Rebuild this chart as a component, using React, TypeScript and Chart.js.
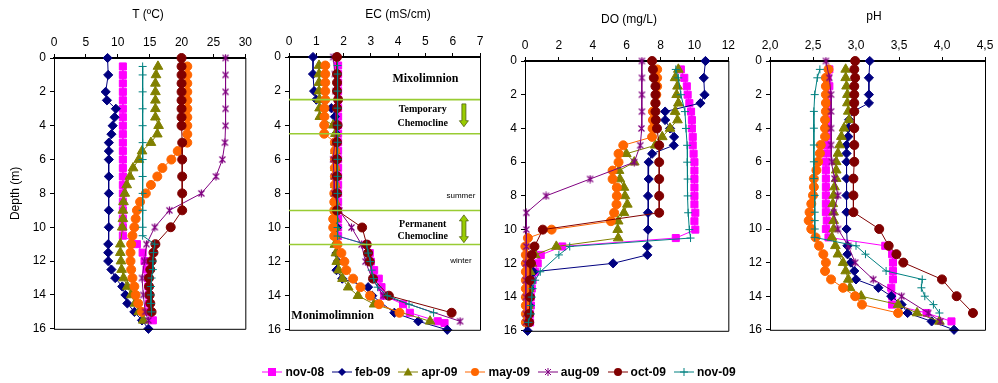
import React, { useEffect, useRef } from 'react';
import { Chart, registerables } from 'chart.js';

Chart.register(...registerables);

const SERIES_NAMES = ['nov-08', 'feb-09', 'apr-09', 'may-09', 'aug-09', 'oct-09', 'nov-09'];
const COLORS = ['#FF00FF', '#000080', '#808000', '#FF6600', '#800080', '#800000', '#008080'];
const STYLES = ['rect', 'rectRot', 'triangle', 'circle', 'asterisk', 'circle', 'cross'];
const RADII = [5, 4.6, 5.6, 4.5, 4, 4.5, 4];

// depth lists (m)
const D_HALF = [0.5, 1, 1.5, 2, 2.5, 3, 3.5, 4, 4.5, 5, 5.5, 6, 6.5, 7, 7.5, 8, 8.5, 9, 9.5, 10, 10.5, 11, 11.5, 12, 12.5, 13, 13.5, 14, 14.5, 15, 15.5];
const D_HALF15 = [0.5, 1, 1.5, 2, 2.5, 3, 3.5, 4, 4.5, 5, 5.5, 6, 6.5, 7, 7.5, 8, 8.5, 9, 9.5, 10, 10.5, 11, 11.5, 12, 12.5, 13, 13.5, 14, 14.5, 15];
const D_FEB = [0, 1, 2, 2.5, 3, 3.5, 4, 4.5, 5, 5.5, 6, 7, 8, 9, 10, 11, 11.5, 12, 12.5, 13, 13.5, 14, 14.5, 15, 15.5, 16];
const D_AUG = [0, 1, 2, 3, 4, 5, 6, 7, 8, 9, 10, 11, 12, 13, 14, 15, 15.5];

// ---- Temperature (ºC)
const tNov08 = [10.8, 10.8, 10.8, 10.8, 10.8, 10.8, 10.8, 10.8, 10.8, 10.8, 10.8, 10.8, 10.8, 10.8, 10.8, 10.8, 10.8, 10.8, 10.8, 10.8, 10.8, 13.0, 13.9, 14.2, 14.5, 14.7, 14.8, 14.9, 14.9, 15.0, 15.5];
const tFeb09 = [8.4, 8.5, 8.1, 8.3, 9.7, 9.5, 9.2, 9.0, 8.6, 8.6, 8.6, 8.6, 8.6, 8.6, 8.6, 8.5, 8.5, 8.5, 9.0, 9.6, 10.7, 11.2, 11.5, 12.6, 13.8, 14.8];
const tApr09Depth = [0.5, 1, 1.5, 2, 2.5, 3, 3.5, 4, 4.5, 5, 5.5, 6, 6.5, 7, 7.5, 8, 8.5, 9, 9.5, 10, 11, 11.5, 12, 12.5, 13, 13.5, 14, 14.5, 15, 15.5];
const tApr09 = [16.3, 16.0, 15.9, 15.9, 15.9, 15.9, 15.9, 16.4, 16.2, 15.2, 13.8, 13.3, 12.4, 11.9, 11.4, 11.1, 10.9, 10.8, 10.8, 10.7, 10.4, 10.4, 10.5, 10.6, 10.9, 11.5, 12.1, 12.7, 13.3, 14.0];
const tMay09 = [20.9, 20.9, 20.9, 20.9, 20.9, 20.9, 20.9, 20.9, 20.9, 20.9, 19.4, 18.4, 17.0, 16.2, 15.2, 14.4, 13.5, 13.0, 12.8, 12.6, 12.3, 12.1, 12.0, 12.0, 12.1, 12.3, 12.6, 12.8, 13.2, 13.8];
const tAug09 = [26.9, 26.9, 26.9, 26.9, 26.9, 26.8, 26.4, 25.4, 23.1, 18.1, 15.8, 14.5, 14.2, 13.8, 14.0, 14.3, 14.8];
const tOct09Depth = [0, 0.5, 1, 1.5, 2, 2.5, 3, 3.5, 4, 5, 6, 7, 8, 9, 10, 11, 11.5, 12, 12.5, 13, 13.5, 14, 14.5, 15];
const tOct09 = [20.0, 20.0, 20.0, 20.0, 20.0, 20.0, 20.0, 20.0, 20.0, 20.1, 20.1, 20.1, 20.1, 20.1, 18.3, 15.9, 15.6, 15.3, 15.1, 14.9, 14.9, 15.0, 15.1, 15.3];
const tNov09Depth = [0.5, 1, 2, 3, 4, 5, 6, 7, 8, 9, 10, 10.5, 11, 11.5, 12, 12.5, 13, 13.5, 14, 14.5, 15];
const tNov09 = [13.9, 13.9, 13.9, 13.9, 13.9, 13.9, 13.9, 13.9, 13.9, 13.9, 13.9, 13.9, 15.8, 15.6, 15.5, 15.5, 15.3, 15.2, 15.2, 15.2, 15.3];

// ---- EC (mS/cm)
const ecNov08Depth = [0.5, 1, 1.5, 2, 2.5, 3, 3.5, 4, 4.5, 5, 5.5, 6, 6.5, 7, 7.5, 8, 8.5, 9, 9.5, 10, 10.5, 11, 11.5, 12, 12.5, 13, 13.5, 14, 14.5, 15, 15.5, 15.6];
const ecNov08 = [1.8, 1.8, 1.8, 1.8, 1.8, 1.8, 1.8, 1.8, 1.8, 1.8, 1.8, 1.8, 1.8, 1.8, 1.8, 1.8, 1.8, 1.8, 1.8, 1.8, 1.8, 2.84, 2.96, 3.0, 3.12, 3.29, 3.39, 3.49, 4.18, 4.43, 5.45, 5.7];
const ecFeb09Depth = [0, 1, 2, 2.5, 3, 3.5, 4, 4.5, 5, 6, 7, 8, 9, 10, 11, 11.5, 12, 12.5, 13, 13.5, 14, 15, 15.5, 16];
const ecFeb09 = [0.88, 0.88, 0.92, 1.0, 1.55, 1.68, 1.71, 1.73, 1.74, 1.74, 1.74, 1.74, 1.75, 1.76, 1.74, 1.74, 1.78, 1.74, 1.95, 2.9, 3.05, 3.86, 4.74, 5.8];
const ecApr09Depth = [0.5, 1, 1.5, 2, 2.5, 3, 3.5, 4, 4.5, 5, 5.5, 6, 6.5, 7, 7.5, 8, 8.5, 9, 9.5, 10, 10.5, 11, 11.5, 12, 12.5, 13, 13.5, 14, 14.5, 15.5];
const ecApr09 = [1.1, 1.1, 1.1, 1.1, 1.12, 1.12, 1.13, 1.62, 1.7, 1.7, 1.7, 1.7, 1.7, 1.7, 1.7, 1.7, 1.7, 1.7, 1.7, 1.7, 1.7, 1.68, 1.72, 1.75, 1.82, 1.96, 2.17, 2.53, 3.12, 5.17];
const ecMay09 = [1.33, 1.33, 1.33, 1.33, 1.33, 1.3, 1.3, 1.29, 1.29, 1.68, 1.69, 1.68, 1.68, 1.68, 1.68, 1.66, 1.66, 1.66, 1.62, 1.62, 1.66, 1.78, 1.92, 2.03, 2.1, 2.35, 2.62, 2.97, 3.3, 4.05];
const ecAug09Depth = [0, 1, 2, 3, 4, 5, 6, 7, 8, 9, 10, 11, 12, 13, 14, 15.5];
const ecAug09 = [1.62, 1.68, 1.7, 1.72, 1.72, 1.68, 1.62, 1.65, 1.66, 1.84, 2.29, 2.66, 2.8, 3.05, 3.45, 6.27];
const ecOct09Depth = [0, 1, 1.5, 2, 2.5, 3, 4, 5, 6, 7, 8, 9, 10, 11, 11.5, 12, 13, 14, 15];
const ecOct09 = [1.76, 1.76, 1.76, 1.76, 1.8, 1.76, 1.78, 1.76, 1.76, 1.76, 1.76, 1.76, 2.68, 2.85, 2.9, 2.96, 3.08, 3.66, 5.96];
const ecNov09Depth = [0.5, 1, 2, 3, 4, 5, 6, 7, 8, 9, 10, 10.5, 11, 11.5, 12, 12.5, 13, 13.5, 14, 14.5, 15];
const ecNov09 = [1.78, 1.78, 1.78, 1.78, 1.78, 1.78, 1.78, 1.78, 1.78, 1.78, 1.78, 1.78, 2.85, 2.9, 2.98, 3.03, 3.1, 3.25, 3.6, 4.4, 5.3];

// ---- DO (mg/L)
const doNov08 = [9.2, 9.4, 9.55, 9.6, 9.7, 9.8, 9.85, 9.85, 9.9, 9.9, 9.95, 10.0, 10.0, 10.0, 10.0, 10.0, 10.0, 10.05, 10.0, 10.05, 8.9, 2.2, 0.93, 0.75, 0.6, 0.45, 0.4, 0.35, 0.35, 0.3, 0.3];
const doFeb09 = [10.65, 10.55, 10.6, 10.35, 8.27, 8.27, 8.56, 8.8, 8.78, 7.5, 7.3, 7.3, 7.26, 7.26, 7.26, 7.22, 7.22, 5.2, 0.5, 0.35, 0.3, 0.3, 0.25, 0.2, 0.2, 0.15];
const doApr09 = [9.05, 8.86, 9.0, 8.95, 9.05, 8.86, 9.0, 8.56, 8.1, 7.69, 5.98, 6.45, 5.55, 5.6, 5.84, 5.9, 6.04, 5.84, 5.5, 5.47, 5.5, 1.85, 0.6, 0.4, 0.3, 0.3, 0.25, 0.2, 0.2, 0.15, 0.15];
const doMay09 = [7.8, 7.8, 7.8, 7.75, 7.7, 7.55, 7.55, 7.53, 7.5, 5.8, 5.52, 5.52, 5.17, 5.17, 5.42, 5.42, 5.4, 5.26, 5.07, 1.57, 0.17, 0.02, 0.05, 0.05, 0.05, 0.05, 0.05, 0.05, 0.05, 0.05, 0.05];
const doAug09 = [6.9, 6.9, 6.9, 6.9, 6.87, 6.8, 6.45, 3.84, 1.24, 0.08, 0.08, 0.08, 0.05, 0.05, 0.05, 0.05, 0.05];
const doOct09Depth = [0, 0.5, 1, 1.5, 2, 2.5, 3, 3.5, 4, 5, 6, 7, 8, 9, 10, 11, 11.5, 12, 13, 14, 15, 15.5];
const doOct09 = [7.5, 7.55, 7.6, 7.7, 7.7, 7.7, 7.7, 7.72, 7.79, 7.92, 7.92, 7.92, 7.92, 7.92, 1.05, 0.56, 0.4, 0.35, 0.3, 0.3, 0.25, 0.25];
const doNov09Depth = [0.5, 1, 2, 3, 4, 5, 6, 7, 8, 9, 10, 10.5, 11, 11.5, 12.5, 13, 13.5, 14, 14.5, 15, 15.5];
const doNov09 = [8.9, 9.05, 9.2, 9.44, 9.5, 9.57, 9.57, 9.6, 9.6, 9.63, 9.7, 9.77, 2.64, 2.0, 0.9, 0.6, 0.45, 0.4, 0.35, 0.35, 0.2];

// ---- pH
const phNov08 = [2.69, 2.67, 2.69, 2.67, 2.67, 2.67, 2.67, 2.67, 2.67, 2.67, 2.66, 2.65, 2.65, 2.65, 2.65, 2.65, 2.65, 2.65, 2.66, 2.65, 2.68, 3.34, 3.42, 3.43, 3.43, 3.43, 3.41, 3.42, 3.42, 3.82, 4.11];
const phFeb09 = [3.16, 3.15, 3.15, 3.15, 2.97, 2.92, 2.91, 2.91, 2.89, 2.89, 2.89, 2.89, 2.89, 2.89, 2.89, 2.9, 2.9, 2.94, 2.98, 3.0, 3.26, 3.41, 3.53, 3.6, 3.88, 4.14];
const phApr09 = [2.88, 2.88, 2.89, 2.9, 2.9, 2.91, 2.92, 2.86, 2.83, 2.81, 2.79, 2.77, 2.77, 2.77, 2.75, 2.74, 2.73, 2.74, 2.74, 2.74, 2.72, 2.76, 2.79, 2.85, 2.88, 2.91, 2.93, 3.06, 3.49, 3.71, 3.97];
const phMay09 = [2.68, 2.65, 2.65, 2.65, 2.65, 2.65, 2.64, 2.64, 2.64, 2.59, 2.58, 2.56, 2.54, 2.51, 2.51, 2.5, 2.48, 2.46, 2.45, 2.48, 2.53, 2.57, 2.62, 2.65, 2.64, 2.71, 2.85, 2.99, 3.07, 3.49];
const phAug09 = [2.65, 2.69, 2.71, 2.71, 2.71, 2.71, 2.72, 2.75, 2.79, 2.74, 2.79, 2.91, 2.99, 3.2, 3.53, 3.84, 3.98];
const phOct09Depth = [0, 0.5, 1, 1.5, 2, 2.5, 3, 4, 5, 6, 7, 8, 9, 10, 11, 11.5, 12, 13, 14, 15];
const phOct09 = [2.99, 2.98, 2.99, 2.98, 2.98, 2.98, 2.98, 2.98, 2.98, 2.98, 2.97, 2.97, 2.97, 3.27, 3.38, 3.47, 3.55, 4.0, 4.17, 4.36];
const phNov09Depth = [0.5, 1, 2, 3, 4, 5, 6, 7, 8, 9, 9.5, 10, 10.5, 11, 11.5, 12.5, 13, 13.5, 14, 14.5, 15];
const phNov09 = [2.58, 2.55, 2.52, 2.51, 2.51, 2.51, 2.51, 2.51, 2.52, 2.52, 2.52, 2.52, 2.52, 3.0, 3.11, 3.35, 3.77, 3.76, 3.8, 3.9, 3.97];

// EC panel annotations
const CHEMOCLINE_DEPTHS = [2.5, 4.5, 9, 11];
const EC_NOTES = [
  { text: 'Mixolimnion', x: 5.0, y: 1.27, font: 'bold 12px "Liberation Serif", "Times New Roman", serif' },
  { text: 'Temporary', x: 4.9, y: 3.1, font: 'bold 10px "Liberation Serif", "Times New Roman", serif' },
  { text: 'Chemocline', x: 4.9, y: 3.9, font: 'bold 10px "Liberation Serif", "Times New Roman", serif' },
  { text: 'summer', x: 6.3, y: 8.16, font: '8px "Liberation Sans", Arial, sans-serif' },
  { text: 'Permanent', x: 4.9, y: 9.8, font: 'bold 10px "Liberation Serif", "Times New Roman", serif' },
  { text: 'Chemocline', x: 4.9, y: 10.54, font: 'bold 10px "Liberation Serif", "Times New Roman", serif' },
  { text: 'winter', x: 6.3, y: 11.93, font: '8px "Liberation Sans", Arial, sans-serif' },
  { text: 'Monimolimnion', x: 1.6, y: 15.19, font: 'bold 12px "Liberation Serif", "Times New Roman", serif' },
];
const EC_ARROWS = [
  { x: 6.41, from: 2.75, to: 4.09, both: false },
  { x: 6.41, from: 9.26, to: 10.89, both: true },
];

const SANS = '"Liberation Sans", Arial, Helvetica, sans-serif';

const PANELS = [
  {
    key: 'T', title: 'T (ºC)', titleX: 148, titleY: 15,
    left: 0, yw: 54, plotW: 194, top: 58, bottom: 332, padR: 8,
    min: 0, max: 30, step: 5, comma: false, yTitle: true,
    series: [[D_HALF, tNov08], [D_FEB, tFeb09], [tApr09Depth, tApr09], [D_HALF15, tMay09], [D_AUG, tAug09], [tOct09Depth, tOct09], [tNov09Depth, tNov09]],
  },
  {
    key: 'EC', title: 'EC (mS/cm)', titleX: 398, titleY: 15,
    left: 250, yw: 39, plotW: 191, top: 57, bottom: 333, padR: 8,
    min: 0, max: 7, step: 1, comma: false, yTitle: false,
    series: [[ecNov08Depth, ecNov08], [ecFeb09Depth, ecFeb09], [ecApr09Depth, ecApr09], [D_HALF15, ecMay09], [ecAug09Depth, ecAug09], [ecOct09Depth, ecOct09], [ecNov09Depth, ecNov09]],
  },
  {
    key: 'DO', title: 'DO (mg/L)', titleX: 629, titleY: 20,
    left: 485, yw: 40, plotW: 206, top: 61, bottom: 334, padR: 8,
    min: 0, max: 12, step: 2, comma: false, yTitle: false,
    series: [[D_HALF, doNov08], [D_FEB, doFeb09], [D_HALF, doApr09], [D_HALF, doMay09], [D_AUG, doAug09], [doOct09Depth, doOct09], [doNov09Depth, doNov09]],
  },
  {
    key: 'pH', title: 'pH', titleX: 874, titleY: 17,
    left: 730, yw: 40, plotW: 215, top: 61, bottom: 333, padR: 13,
    min: 2, max: 4.5, step: 0.5, comma: true, yTitle: false,
    series: [[D_HALF, phNov08], [D_FEB, phFeb09], [D_HALF, phApr09], [D_HALF15, phMay09], [D_AUG, phAug09], [phOct09Depth, phOct09], [phNov09Depth, phNov09]],
  },
];

function makeAsterisk(color: string) {
  const c = document.createElement('canvas');
  c.width = 9;
  c.height = 9;
  const g = c.getContext('2d')!;
  g.strokeStyle = color;
  g.lineWidth = 1.2;
  g.beginPath();
  g.moveTo(1.5, 1.5); g.lineTo(7.5, 7.5);
  g.moveTo(7.5, 1.5); g.lineTo(1.5, 7.5);
  g.moveTo(4.5, 0.5); g.lineTo(4.5, 8.5);
  g.stroke();
  return c;
}

function drawArrow(ctx: CanvasRenderingContext2D, x: number, y1: number, y2: number, both: boolean) {
  const sw = 2, hw = 4.5, hl = 6;
  ctx.beginPath();
  if (both) {
    ctx.moveTo(x, y1);
    ctx.lineTo(x + hw, y1 + hl);
    ctx.lineTo(x + sw, y1 + hl);
    ctx.lineTo(x + sw, y2 - hl);
    ctx.lineTo(x + hw, y2 - hl);
    ctx.lineTo(x, y2);
    ctx.lineTo(x - hw, y2 - hl);
    ctx.lineTo(x - sw, y2 - hl);
    ctx.lineTo(x - sw, y1 + hl);
    ctx.lineTo(x - hw, y1 + hl);
  } else {
    ctx.moveTo(x - sw, y1);
    ctx.lineTo(x + sw, y1);
    ctx.lineTo(x + sw, y2 - hl);
    ctx.lineTo(x + hw, y2 - hl);
    ctx.lineTo(x, y2);
    ctx.lineTo(x - hw, y2 - hl);
    ctx.lineTo(x - sw, y2 - hl);
  }
  ctx.closePath();
  ctx.fillStyle = '#99CC00';
  ctx.fill();
  ctx.strokeStyle = '#4F5F10';
  ctx.lineWidth = 0.8;
  ctx.stroke();
}

function Panel({ cfg }: { cfg: any }) {
  const ref = useRef<HTMLCanvasElement>(null);
  const width = cfg.yw + cfg.plotW + cfg.padR;
  const height = cfg.bottom + 8;
  useEffect(() => {
    const asterisk = makeAsterisk(COLORS[4]);
    const datasets = cfg.series.map((pair: number[][], i: number) => {
      const [depths, vals] = pair;
      return {
        label: SERIES_NAMES[i],
        data: depths.map((d, k) => ({ x: vals[k], y: d })),
        showLine: true,
        borderColor: COLORS[i],
        backgroundColor: COLORS[i],
        borderWidth: 1,
        pointStyle: i === 4 ? asterisk : STYLES[i],
        pointRadius: RADII[i],
        pointHoverRadius: RADII[i],
        pointBorderWidth: 1,
        pointBorderColor: COLORS[i],
        pointBackgroundColor: COLORS[i],
        clip: false,
        order: -i,
      };
    });
    const decor = {
      id: 'decor',
      afterDatasetsDraw(chart: any) {
        const { ctx, chartArea: a, scales } = chart;
        ctx.save();
        if (cfg.key === 'EC') {
          const xs = scales.x, ys = scales.y;
          ctx.strokeStyle = '#99CC33';
          ctx.lineWidth = 1.6;
          CHEMOCLINE_DEPTHS.forEach((d) => {
            const y = ys.getPixelForValue(d);
            ctx.beginPath();
            ctx.moveTo(a.left, y);
            ctx.lineTo(a.right, y);
            ctx.stroke();
          });
          ctx.fillStyle = '#000';
          ctx.textAlign = 'center';
          ctx.textBaseline = 'middle';
          EC_NOTES.forEach((n) => {
            ctx.font = n.font;
            ctx.fillText(n.text, xs.getPixelForValue(n.x), ys.getPixelForValue(n.y));
          });
          EC_ARROWS.forEach((ar) => {
            drawArrow(ctx, xs.getPixelForValue(ar.x), ys.getPixelForValue(ar.from), ys.getPixelForValue(ar.to), ar.both);
          });
        }
        ctx.restore();
      },
      afterDraw(chart: any) {
        const { ctx, chartArea: a } = chart;
        ctx.save();
        ctx.strokeStyle = '#000';
        ctx.lineWidth = 1;
        ctx.beginPath();
        ctx.moveTo(a.right + 0.5, a.top);
        ctx.lineTo(a.right + 0.5, a.bottom + 0.5);
        ctx.lineTo(a.left, a.bottom + 0.5);
        ctx.stroke();
        ctx.fillStyle = '#000';
        ctx.font = '12px ' + SANS;
        ctx.textAlign = 'center';
        ctx.textBaseline = 'middle';
        ctx.fillText(cfg.title, cfg.titleX - cfg.left, cfg.titleY);
        ctx.restore();
      },
    };
    const tickFont = { family: SANS, size: 12 };
    const chart = new Chart(ref.current!, {
      type: 'scatter',
      data: { datasets },
      options: {
        responsive: false,
        animation: false,
        events: [],
        layout: { padding: { left: 0, top: 0, right: cfg.padR, bottom: 8 } },
        plugins: { legend: { display: false }, tooltip: { enabled: false }, title: { display: false } },
        scales: {
          x: {
            type: 'linear',
            position: 'top',
            min: cfg.min,
            max: cfg.max,
            ticks: {
              stepSize: cfg.step,
              autoSkip: false,
              maxRotation: 0,
              padding: 4,
              color: '#000',
              font: tickFont,
              callback: (v: any) => (cfg.comma ? Number(v).toFixed(1).replace('.', ',') : String(v)),
            },
            grid: { display: true, drawOnChartArea: false, drawTicks: true, tickLength: 4, color: '#000' },
            border: { display: true, color: '#000', width: 2 },
            afterFit: (s: any) => { s.height = cfg.top; },
          },
          y: {
            type: 'linear',
            position: 'left',
            reverse: true,
            min: 0,
            max: 16,
            ticks: { stepSize: 2, autoSkip: false, padding: 4, color: '#000', font: tickFont },
            grid: { display: true, drawOnChartArea: false, drawTicks: true, tickLength: 4, color: '#000' },
            border: { display: true, color: '#000', width: 1 },
            title: { display: cfg.yTitle, text: 'Depth (m)', color: '#000', font: { family: SANS, size: 12 }, padding: { top: 8, bottom: 0 } },
            afterFit: (s: any) => { s.width = cfg.yw; },
          },
        },
      } as any,
      plugins: [decor],
    });
    return () => chart.destroy();
  }, []);
  return (
    <canvas
      ref={ref}
      width={width}
      height={height}
      style={{ position: 'absolute', left: cfg.left, top: 0, width, height }}
    />
  );
}

function LegendMarker({ i }: { i: number }) {
  const c = COLORS[i];
  const cx = 10, cy = 5;
  let m: any = null;
  if (i === 0) m = <rect x={cx - 4} y={cy - 4} width={8} height={8} fill={c} />;
  else if (i === 1) m = <polygon points={`${cx},${cy - 4} ${cx + 4},${cy} ${cx},${cy + 4} ${cx - 4},${cy}`} fill={c} />;
  else if (i === 2) m = <polygon points={`${cx},${cy - 4.5} ${cx + 4.5},${cy + 3.5} ${cx - 4.5},${cy + 3.5}`} fill={c} />;
  else if (i === 3 || i === 5) m = <circle cx={cx} cy={cy} r={4} fill={c} />;
  else if (i === 4)
    m = (
      <g stroke={c} strokeWidth={1}>
        <line x1={cx - 3} y1={cy - 3} x2={cx + 3} y2={cy + 3} />
        <line x1={cx + 3} y1={cy - 3} x2={cx - 3} y2={cy + 3} />
        <line x1={cx} y1={cy - 4} x2={cx} y2={cy + 4} />
      </g>
    );
  else m = (
    <g stroke={c} strokeWidth={1}>
      <line x1={cx - 4} y1={cy} x2={cx + 4} y2={cy} />
      <line x1={cx} y1={cy - 4} x2={cx} y2={cy + 4} />
    </g>
  );
  return (
    <svg width={20} height={10} style={{ display: 'block', marginRight: 3, overflow: 'visible' }}>
      <line x1={0} y1={5} x2={20} y2={5} stroke={c} strokeWidth={1} />
      {m}
    </svg>
  );
}

export default function App() {
  return (
    <div style={{ position: 'absolute', left: 0, top: 0, width: 998, height: 383, background: '#fff', overflow: 'hidden' }}>
      {PANELS.map((p) => (
        <Panel key={p.key} cfg={p} />
      ))}
      <div
        style={{
          position: 'absolute', left: 0, top: 363, width: 998, height: 18,
          display: 'flex', justifyContent: 'center', alignItems: 'center',
          fontFamily: SANS, fontWeight: 'bold', fontSize: 12, color: '#000',
        }}
      >
        {SERIES_NAMES.map((n, i) => (
          <div key={n} style={{ display: 'flex', alignItems: 'center', marginRight: i < SERIES_NAMES.length - 1 ? 8 : 0 }}>
            <LegendMarker i={i} />
            <span>{n}</span>
          </div>
        ))}
      </div>
    </div>
  );
}
